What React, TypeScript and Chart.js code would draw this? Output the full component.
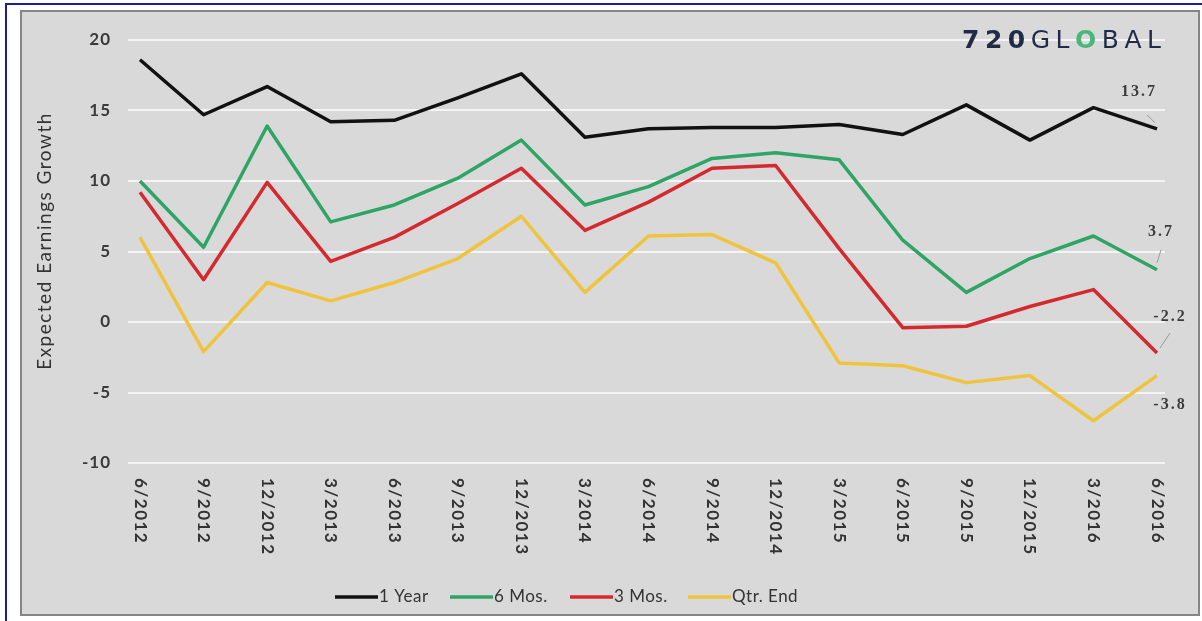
import React, { useEffect, useRef } from "react";
import { Chart, registerables } from "chart.js";

Chart.register(...registerables);

const CATEGORIES = [
  "6/2012", "9/2012", "12/2012", "3/2013", "6/2013", "9/2013", "12/2013",
  "3/2014", "6/2014", "9/2014", "12/2014", "3/2015", "6/2015", "9/2015",
  "12/2015", "3/2016", "6/2016",
];
const ONE_YEAR = [18.6, 14.7, 16.7, 14.2, 14.3, 15.9, 17.6, 13.1, 13.7, 13.8, 13.8, 14.0, 13.3, 15.4, 12.9, 15.2, 13.7];
const SIX_MOS = [10.0, 5.3, 13.9, 7.1, 8.3, 10.2, 12.9, 8.3, 9.6, 11.6, 12.0, 11.5, 5.8, 2.1, 4.5, 6.1, 3.7];
const THREE_MOS = [9.2, 3.0, 9.9, 4.3, 6.0, 8.4, 10.9, 6.5, 8.5, 10.9, 11.1, 5.2, -0.4, -0.3, 1.1, 2.3, -2.2];
const QTR_END = [6.0, -2.1, 2.8, 1.5, 2.8, 4.5, 7.5, 2.1, 6.1, 6.2, 4.2, -2.9, -3.1, -4.3, -3.8, -7.0, -3.8];
const SERIES_NAMES = ["1 Year", "6 Mos.", "3 Mos.", "Qtr. End"];
const SERIES_COLORS = ["#111111", "#2ea564", "#d42a2f", "#efc43c"];
const Y_TICKS = [20, 15, 10, 5, 0, -5, -10];
const END_LABELS = ["13.7", "3.7", "-2.2", "-3.8"];
const Y_TITLE = "Expected Earnings Growth";

const labelPlugin = {
  id: "customText",
  beforeDatasetsDraw(chart: any) {
    const ctx = chart.ctx;
    const y = chart.scales.y;
    const area = chart.chartArea;
    ctx.save();
    // gridlines
    ctx.strokeStyle = "#f4f4f4";
    ctx.lineWidth = 2;
    Y_TICKS.forEach((t) => {
      const py = Math.round(y.getPixelForValue(t));
      ctx.beginPath();
      ctx.moveTo(area.left - 12, py);
      ctx.lineTo(area.right + 8, py);
      ctx.stroke();
    });
    // y tick labels
    ctx.fillStyle = "#3a3a3a";
    ctx.font = "bold 17px Lato";
    ctx.textAlign = "right";
    ctx.textBaseline = "middle";
    (ctx as any).letterSpacing = "1px";
    Y_TICKS.forEach((t) => {
      ctx.fillText(String(t), area.left - 29, y.getPixelForValue(t));
    });
    // y title
    ctx.save();
    ctx.translate(45, 241);
    ctx.rotate(-Math.PI / 2);
    ctx.textAlign = "center";
    ctx.font = "19px Lato";
    (ctx as any).letterSpacing = "1.5px";
    ctx.fillStyle = "#333333";
    ctx.fillText(Y_TITLE, 0, 0);
    ctx.restore();
    // x tick labels (reading top to bottom)
    const x = chart.scales.x;
    ctx.font = "bold 17px Lato";
    (ctx as any).letterSpacing = "1.5px";
    ctx.fillStyle = "#333333";
    CATEGORIES.forEach((c, i) => {
      const px = x.getPixelForValue(i);
      ctx.save();
      ctx.translate(px, area.bottom + 15);
      ctx.rotate(Math.PI / 2);
      ctx.textAlign = "left";
      ctx.textBaseline = "middle";
      ctx.fillText(c, 0, 0);
      ctx.restore();
    });
    // legend
    const legendX = [335, 450, 570, 688];
    const legendY = 597;
    ctx.font = "17px Lato";
    (ctx as any).letterSpacing = "0.5px";
    ctx.textAlign = "left";
    ctx.textBaseline = "middle";
    SERIES_NAMES.forEach((n, i) => {
      ctx.strokeStyle = SERIES_COLORS[i];
      ctx.lineWidth = 3.5;
      ctx.beginPath();
      ctx.moveTo(legendX[i], legendY);
      ctx.lineTo(legendX[i] + 43, legendY);
      ctx.stroke();
      ctx.fillStyle = "#333333";
      ctx.fillText(n, legendX[i] + 44, legendY);
    });
    // logo
    ctx.textBaseline = "middle";
    ctx.textAlign = "left";
    (ctx as any).letterSpacing = "5.5px";
    let lx = 962;
    const ly = 41;
    ctx.font = "bold 25px 'DejaVu Sans'";
    ctx.fillStyle = "#1f2b47";
    ctx.fillText("720", lx, ly);
    lx += ctx.measureText("720").width;
    ctx.font = "25px 'DejaVu Sans'";
    ctx.fillText("GL", lx, ly);
    lx += ctx.measureText("GL").width;
    ctx.fillStyle = "#49b77a";
    ctx.font = "bold 25px 'DejaVu Sans'";
    ctx.fillText("O", lx, ly);
    lx += ctx.measureText("O").width;
    ctx.fillStyle = "#1f2b47";
    ctx.font = "25px 'DejaVu Sans'";
    ctx.fillText("BAL", lx, ly);
    (ctx as any).letterSpacing = "0px";
    ctx.restore();
  },
  afterDatasetsDraw(chart: any) {
    const ctx = chart.ctx;
    ctx.save();
    const offs = [
      { dx: -18, dy: -37, lead: [[-10, -14], [-2, -6]] },
      { dx: 4, dy: -38, lead: [[4, -20], [0, -7]] },
      { dx: 13, dy: -36, lead: [[13, -20], [3, -5]] },
      { dx: 13, dy: 29, lead: null as any },
    ];
    ctx.font = "bold 16px 'Liberation Serif'";
    (ctx as any).letterSpacing = "2px";
    ctx.textAlign = "center";
    ctx.textBaseline = "middle";
    chart.data.datasets.forEach((ds: any, i: number) => {
      const meta = chart.getDatasetMeta(i);
      const pt = meta.data[meta.data.length - 1];
      const o = offs[i];
      if (o.lead) {
        ctx.strokeStyle = "#9a9a9a";
        ctx.lineWidth = 1;
        ctx.beginPath();
        ctx.moveTo(pt.x + o.lead[0][0], pt.y + o.lead[0][1]);
        ctx.lineTo(pt.x + o.lead[1][0], pt.y + o.lead[1][1]);
        ctx.stroke();
      }
      ctx.fillStyle = "#3c3c3c";
      ctx.fillText(END_LABELS[i], pt.x + o.dx, pt.y + o.dy);
    });
    ctx.restore();
  },
};

export default function App() {
  const ref = useRef<HTMLCanvasElement>(null);
  useEffect(() => {
    const seriesData = [ONE_YEAR, SIX_MOS, THREE_MOS, QTR_END];
    const chart = new Chart(ref.current!, {
      type: "line",
      data: {
        labels: CATEGORIES,
        datasets: seriesData.map((d, i) => ({
          label: SERIES_NAMES[i],
          data: d,
          borderColor: SERIES_COLORS[i],
          backgroundColor: SERIES_COLORS[i],
          borderWidth: 3.5,
          pointRadius: 0,
          tension: 0,
          borderJoinStyle: "round" as const,
        })),
      },
      options: {
        animation: false,
        responsive: true,
        maintainAspectRatio: false,
        layout: { padding: { left: 140, right: 45, top: 40, bottom: 158 } },
        plugins: { legend: { display: false }, tooltip: { enabled: false } },
        scales: {
          x: { display: false, offset: false },
          y: { display: false, min: -10, max: 20, ticks: { stepSize: 5 } },
        },
      },
      plugins: [labelPlugin],
    });
    return () => chart.destroy();
  }, []);
  return (
    <div style={{ position: "fixed", left: 0, top: 0, width: 1202, height: 621, background: "#ffffff", overflow: "hidden" }}>
      <div style={{ position: "absolute", left: 5, top: 3, width: 1250, height: 700, borderTop: "2px solid #1c1c9c", borderLeft: "2px solid #1c1c9c" }} />
      <div style={{ position: "absolute", left: 20, top: 10, width: 1176, height: 602, background: "#d9d9d9", border: "2px solid #858585" }} />
      <div style={{ position: "absolute", left: 0, top: 0, width: 1202, height: 621 }}>
        <canvas ref={ref} />
      </div>
    </div>
  );
}
